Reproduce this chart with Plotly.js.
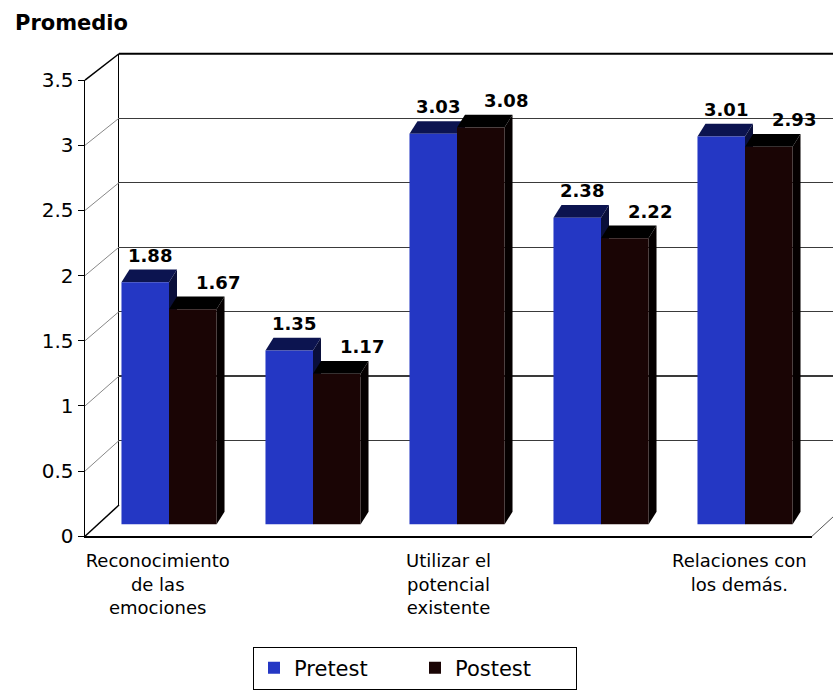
<!DOCTYPE html>
<html><head><meta charset="utf-8">
<script src="https://cdn.plot.ly/plotly-3.0.1.min.js"></script>
<style>html,body{margin:0;padding:0;background:#fff}#chart{width:833px;height:690px}</style>
</head><body><div id="chart"></div>
<script>
// ---- data ----
const categoryIndex = [0, 1, 2, 3, 4];
const categoryLabels = ['Reconocimiento<br>de las<br>emociones', '', 'Utilizar el<br>potencial<br>existente', '', 'Relaciones con<br>los demás.'];
const pretest = [1.88, 1.35, 3.03, 2.38, 3.01];
const postest = [1.67, 1.17, 3.08, 2.22, 2.93];
const seriesNames = ['Pretest', 'Postest'];
const yTickValues = [0, 0.5, 1, 1.5, 2, 2.5, 3, 3.5];
const yTickLabels = ['0', '0.5', '1', '1.5', '2', '2.5', '3', '3.5'];
const yAxisTitle = 'Promedio';

// ---- geometry (pixels) ----
const W = 833, H = 690;
const FRONT = {x0: 85, x1: 812, yb: 549, yt: 82};
const BACK  = {x0: 119, x1: 846, yb: 517, yt: 55};
const MID   = {x0: 97, x1: 817, yb: 537, yt: 75};
const YMAX = 3.5, XR = [-0.5, 4.5];
const BW = 0.33;
const DEPTH_PX = {dx: 8, dy: 13};
const FONT = 'DejaVu Sans, Arial, sans-serif';

const px = x => x / W, py = y => 1 - y / H;
function dom(p) { return {x: [px(p.x0), Math.min(1, px(p.x1))], y: [py(p.yb), py(p.yt)]}; }
const fD = dom(FRONT), bD = dom(BACK), mD = dom(MID);
const frontY = v => FRONT.yb - v / YMAX * (FRONT.yb - FRONT.yt);
const backY = v => BACK.yb - v / YMAX * (BACK.yb - BACK.yt);

const pxPerX = (MID.x1 - MID.x0) / (XR[1] - XR[0]);
const pxPerY = (MID.yb - MID.yt) / YMAX;
const ddx = DEPTH_PX.dx / pxPerX, ddy = DEPTH_PX.dy / pxPerY;

const series = [
  {name: seriesNames[0], y: pretest, offset: -BW, front: '#2437c4', top: '#0c1450', side: '#0a0f3a', xshift: 5},
  {name: seriesNames[1], y: postest, offset: 0, front: '#1a0505', top: '#000000', side: '#050000', xshift: 25}
];

const traces = series.map(s => ({
  type: 'bar', name: s.name, x: categoryIndex, y: s.y,
  width: BW, offset: s.offset, xaxis: 'x3', yaxis: 'y3',
  marker: {color: s.front, line: {width: 0}}, hoverinfo: 'skip'
}));
// invisible helper traces so the front-plane and back-wall axes are drawn
[['x', 'y'], ['x2', 'y2']].forEach(([xa, ya]) => {
  traces.push({type: 'scatter', mode: 'markers', x: [0], y: [0], xaxis: xa, yaxis: ya,
    marker: {opacity: 0}, showlegend: false, hoverinfo: 'skip'});
});

const shapes = [];
// bar 3D faces (sides first then tops, series in order)
series.forEach(s => {
  s.y.forEach((v, i) => {
    const xl = categoryIndex[i] + s.offset, xr = xl + BW;
    shapes.push({type: 'path', xref: 'x3', yref: 'y3', layer: 'below',
      path: `M${xr},0 L${xr},${v} L${xr + ddx},${v + ddy} L${xr + ddx},${ddy} Z`,
      fillcolor: s.side, line: {width: 0}});
    shapes.push({type: 'path', xref: 'x3', yref: 'y3', layer: 'below',
      path: `M${xl},${v} L${xr},${v} L${xr + ddx},${v + ddy} L${xl + ddx},${v + ddy} Z`,
      fillcolor: s.top, line: {width: 0}});
  });
});
// left side-wall diagonals
yTickValues.forEach(v => {
  const edge = (v === 0 || v === YMAX);
  shapes.push({type: 'line', xref: 'paper', yref: 'paper', layer: 'above',
    x0: px(FRONT.x0), y0: py(frontY(v)), x1: px(BACK.x0), y1: py(backY(v)),
    line: {color: edge ? '#000' : '#888', width: edge ? 1.5 : 1}});
});
// top border of back wall
shapes.push({type: 'line', xref: 'paper', yref: 'paper', layer: 'above',
  x0: px(BACK.x0), y0: py(BACK.yt), x1: 1, y1: py(BACK.yt), line: {color: '#000', width: 2}});
// right floor edge
shapes.push({type: 'line', xref: 'paper', yref: 'paper', layer: 'above',
  x0: px(FRONT.x1), y0: py(FRONT.yb), x1: px(BACK.x1), y1: py(BACK.yb), line: {color: '#555', width: 1}});

const annotations = [];
series.forEach(s => {
  s.y.forEach((v, i) => {
    annotations.push({xref: 'x3', yref: 'y3', x: categoryIndex[i] + s.offset + BW / 2, y: v,
      text: v.toFixed(2), showarrow: false, xanchor: 'center', yanchor: 'middle',
      xshift: s.xshift, yshift: 27,
      font: {family: FONT, size: 18, color: '#000', weight: 'bold'}});
  });
});
annotations.push({xref: 'paper', yref: 'paper', x: px(13), y: py(24), xanchor: 'left', yanchor: 'middle',
  text: yAxisTitle, showarrow: false, font: {family: FONT, size: 21, color: '#000', weight: 'bold'}});

const layout = {
  width: W, height: H, margin: {l: 0, r: 0, t: 0, b: 0},
  paper_bgcolor: '#fff', plot_bgcolor: 'rgba(0,0,0,0)',
  font: {family: FONT, color: '#000'},
  barmode: 'overlay', hovermode: false,
  xaxis: {domain: fD.x, anchor: 'y', range: XR, tickvals: categoryIndex, ticktext: categoryLabels,
    showline: true, linecolor: '#000', linewidth: 1.5, ticks: '', showgrid: false, zeroline: false,
    tickfont: {size: 18, family: FONT, color: '#000'}, ticklabelstandoff: 8},
  yaxis: {domain: fD.y, anchor: 'x', range: [0, YMAX], tickvals: yTickValues, ticktext: yTickLabels,
    ticks: 'outside', ticklen: 6, tickcolor: '#000', showline: true, linecolor: '#000', linewidth: 1.5,
    showgrid: false, zeroline: false, tickfont: {size: 20, family: FONT, color: '#000'}},
  xaxis2: {domain: bD.x, anchor: 'y2', range: [0, 1], showticklabels: false, ticks: '', showgrid: false,
    zeroline: false, showline: false},
  yaxis2: {domain: bD.y, anchor: 'x2', range: [0, YMAX], tick0: 0, dtick: 0.5, showticklabels: false, ticks: '',
    showgrid: true, gridcolor: '#3a3a3a', gridwidth: 1.2, showline: true, linecolor: '#000', linewidth: 1.5, zeroline: false},
  xaxis3: {domain: mD.x, anchor: 'y3', range: XR, visible: false},
  yaxis3: {domain: mD.y, anchor: 'x3', range: [0, YMAX], visible: false},
  showlegend: true,
  legend: {orientation: 'h', x: px(253), y: py(662), xanchor: 'left', yanchor: 'top',
    bordercolor: '#000', borderwidth: 1, bgcolor: '#fff',
    font: {family: FONT, size: 21, color: '#000'}, entrywidth: 116, entrywidthmode: 'pixels'},
  shapes: shapes, annotations: annotations
};

Plotly.newPlot('chart', traces, layout, {displayModeBar: false, staticPlot: true});
</script></body></html>
